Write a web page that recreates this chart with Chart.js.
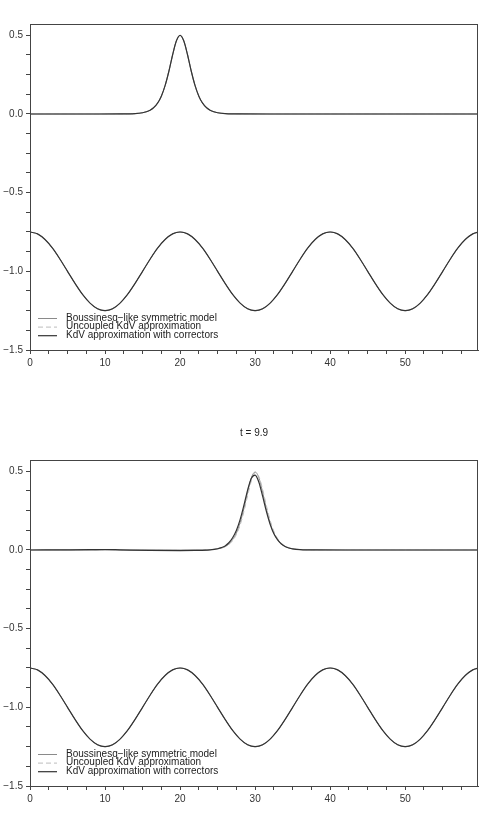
<!DOCTYPE html>
<html>
<head>
<meta charset="utf-8">
<script src="https://cdn.jsdelivr.net/npm/chart.js@4.4.1/dist/chart.umd.min.js"></script>
<style>
  html, body { margin: 0; padding: 0; background: #fff; }
  .panel { position: absolute; left: 0; width: 481px; }
  #top-panel { top: 0; height: 400px; }
  #bottom-panel { top: 400px; height: 431px; }
</style>
</head>
<body>
<div class="panel" id="top-panel"><canvas id="chart-t0"></canvas></div>
<div class="panel" id="bottom-panel"><canvas id="chart-t99"></canvas></div>
<script>
const seriesNames = [
  "Boussinesq\u2212like symmetric model",
  "Uncoupled KdV approximation",
  "KdV approximation with correctors",
];

// lower component, same at both times
const waveX = [
  0, 1, 2, 3, 4, 5, 6, 7, 8, 9, 10, 11, 12, 13, 14, 15, 16, 17, 18, 19,
  20, 21, 22, 23, 24, 25, 26, 27, 28, 29, 30, 31, 32, 33, 34, 35, 36, 37, 38, 39,
  40, 41, 42, 43, 44, 45, 46, 47, 48, 49, 50, 51, 52, 53, 54, 55, 56, 57, 58, 59,
  59.7,
];
const waveY = [
  -0.75, -0.762, -0.798, -0.853, -0.923, -1.0, -1.077, -1.147, -1.202, -1.238,
  -1.25, -1.238, -1.202, -1.147, -1.077, -1.0, -0.923, -0.853, -0.798, -0.762,
  -0.75, -0.762, -0.798, -0.853, -0.923, -1.0, -1.077, -1.147, -1.202, -1.238,
  -1.25, -1.238, -1.202, -1.147, -1.077, -1.0, -0.923, -0.853, -0.798, -0.762,
  -0.75, -0.762, -0.798, -0.853, -0.923, -1.0, -1.077, -1.147, -1.202, -1.238,
  -1.25, -1.238, -1.202, -1.147, -1.077, -1.0, -0.923, -0.853, -0.798, -0.762,
  -0.751,
];

// t = 0 : solitary wave at x = 20, all three models agree
const pulseX0 = [0, 4, 8, 12, 14, 15, 15.5, 16, 16.5, 17, 17.5, 18, 18.5, 19, 19.5, 20, 20.5, 21, 21.5, 22, 22.5, 23, 23.5, 24, 24.5, 25, 26, 28, 32, 40, 50, 59.7];
const pulseY0 = [0, 0, 0, 0.0003, 0.0027, 0.0081, 0.014, 0.024, 0.041, 0.0686, 0.113, 0.18, 0.27, 0.375, 0.464, 0.5, 0.464, 0.375, 0.27, 0.18, 0.113, 0.0686, 0.041, 0.024, 0.014, 0.0081, 0.0027, 0.0003, 0, 0, 0, 0];

// t = 9.9 : wave moved to x = 30
const pulseX1 = [0, 4, 8, 10, 12, 16, 20, 22, 24, 25, 25.5, 26, 26.5, 27, 27.5, 28, 28.5, 29, 29.5, 30, 30.5, 31, 31.5, 32, 32.5, 33, 33.5, 34, 34.5, 35, 36, 38, 42, 50, 59.7];
const boussinesqY1 = [0, 0, 0, 0, 0, 0, 0, 0.0003, 0.0024, 0.0073, 0.0127, 0.022, 0.038, 0.066, 0.107, 0.173, 0.262, 0.368, 0.459, 0.496, 0.459, 0.368, 0.262, 0.173, 0.107, 0.066, 0.038, 0.022, 0.0127, 0.0073, 0.0024, 0.0003, 0, 0, 0];
const uncoupledY1 = [0, 0, 0, 0, 0, 0, 0, 0.0002, 0.0022, 0.0068, 0.0117, 0.0203, 0.0348, 0.059, 0.098, 0.158, 0.243, 0.345, 0.439, 0.4885, 0.4666, 0.3855, 0.282, 0.189, 0.119, 0.0725, 0.043, 0.025, 0.0146, 0.0084, 0.0028, 0.0004, 0, 0, 0];
const correctedY1 = [0, 0.001, 0.002, 0.003, 0.001, -0.003, -0.004, -0.003, 0.001, 0.008, 0.015, 0.026, 0.046, 0.078, 0.124, 0.193, 0.283, 0.381, 0.456, 0.476, 0.431, 0.342, 0.245, 0.163, 0.103, 0.064, 0.038, 0.022, 0.013, 0.0077, 0.0027, 0.0004, 0, 0, 0];

const FONT = "'Liberation Sans', Arial, sans-serif";
const AXIS_COLOR = "#444";
const seriesStyle = [
  { color: "#8a8a8a", width: 1, dash: [] },
  { color: "#bdbdbd", width: 1, dash: [5, 3] },
  { color: "#333333", width: 1.2, dash: [] },
];

function points(xs, ys) {
  return xs.map((x, i) => ({ x: x, y: ys[i] }));
}

function makeDatasets(pulseX, pulses) {
  const datasets = [];
  pulses.forEach((ys, i) => {
    const st = seriesStyle[i];
    const common = {
      borderColor: st.color,
      borderWidth: st.width,
      borderDash: st.dash,
      pointRadius: 0,
      fill: false,
      cubicInterpolationMode: "monotone",
      order: 2 - i,
    };
    datasets.push({ ...common, label: seriesNames[i], data: points(pulseX, ys) });
    datasets.push({ ...common, label: "", data: points(waveX, waveY) });
  });
  return datasets;
}

const panelDecor = {
  id: "panelDecor",
  afterDraw(chart, args, opts) {
    const ctx = chart.ctx;
    const a = chart.chartArea;
    ctx.save();
    // frame
    ctx.strokeStyle = AXIS_COLOR;
    ctx.lineWidth = 1;
    ctx.setLineDash([]);
    ctx.strokeRect(Math.round(a.left) + 0.5, Math.round(a.top) + 0.5,
      Math.round(a.right - a.left) - 1, Math.round(a.bottom - a.top));
    // legend
    ctx.font = "10px " + FONT;
    ctx.textBaseline = "middle";
    ctx.textAlign = "left";
    seriesNames.forEach((name, i) => {
      const y = a.bottom - 32 + i * 8.6;
      const st = seriesStyle[i];
      ctx.strokeStyle = st.color;
      ctx.lineWidth = st.width;
      ctx.setLineDash(st.dash);
      ctx.beginPath();
      ctx.moveTo(a.left + 8, y + 0.5);
      ctx.lineTo(a.left + 27, y + 0.5);
      ctx.stroke();
      ctx.fillStyle = "#222";
      ctx.fillText(name, a.left + 36, y);
    });
    // title
    if (opts.text) {
      ctx.textAlign = "center";
      ctx.fillStyle = "#222";
      ctx.fillText(opts.text, (a.left + a.right) / 2, opts.y);
    }
    ctx.restore();
  },
};

function onStep(v, step) {
  return Math.abs(v / step - Math.round(v / step)) < 1e-6;
}

function buildChart(canvasId, datasets, padTop, xAxisHeight, title) {
  return new Chart(document.getElementById(canvasId), {
    type: "line",
    data: { datasets: datasets },
    plugins: [panelDecor],
    options: {
      responsive: true,
      maintainAspectRatio: false,
      animation: false,
      events: [],
      layout: { padding: { top: padTop, right: 3, left: 0, bottom: 0 } },
      plugins: {
        legend: { display: false },
        tooltip: { enabled: false },
        panelDecor: title,
      },
      scales: {
        x: {
          type: "linear",
          min: 0,
          max: 59.7,
          afterFit: (s) => { s.height = xAxisHeight; },
          afterBuildTicks: (s) => { s.ticks = s.ticks.filter((t) => onStep(t.value, 2.5)); },
          ticks: {
            stepSize: 2.5,
            includeBounds: false,
            autoSkip: false,
            maxRotation: 0,
            padding: 3,
            color: "#333",
            font: { family: FONT, size: 10 },
            callback: (v) => (onStep(v, 10) ? String(Math.round(v)) : ""),
          },
          grid: { drawOnChartArea: false, tickLength: 4, color: AXIS_COLOR },
          border: { color: AXIS_COLOR },
        },
        y: {
          type: "linear",
          min: -1.5,
          max: 0.572,
          afterFit: (s) => { s.width = 30; },
          afterBuildTicks: (s) => { s.ticks = s.ticks.filter((t) => onStep(t.value, 0.125)); },
          ticks: {
            stepSize: 0.125,
            includeBounds: false,
            autoSkip: false,
            padding: 3,
            color: "#333",
            font: { family: FONT, size: 10 },
            callback: (v) => {
              if (!onStep(v, 0.5)) return "";
              const r = Math.round(v * 2) / 2;
              return (r === 0 ? 0 : r).toFixed(1).replace("-", "\u2212");
            },
          },
          grid: { drawOnChartArea: false, tickLength: 4, color: AXIS_COLOR },
          border: { color: AXIS_COLOR },
        },
      },
    },
  });
}

buildChart("chart-t0", makeDatasets(pulseX0, [pulseY0, pulseY0, pulseY0]), 24, 50, {});
buildChart("chart-t99", makeDatasets(pulseX1, [boussinesqY1, uncoupledY1, correctedY1]), 60, 45, { text: "t = 9.9", y: 33 });
</script>
</body>
</html>
